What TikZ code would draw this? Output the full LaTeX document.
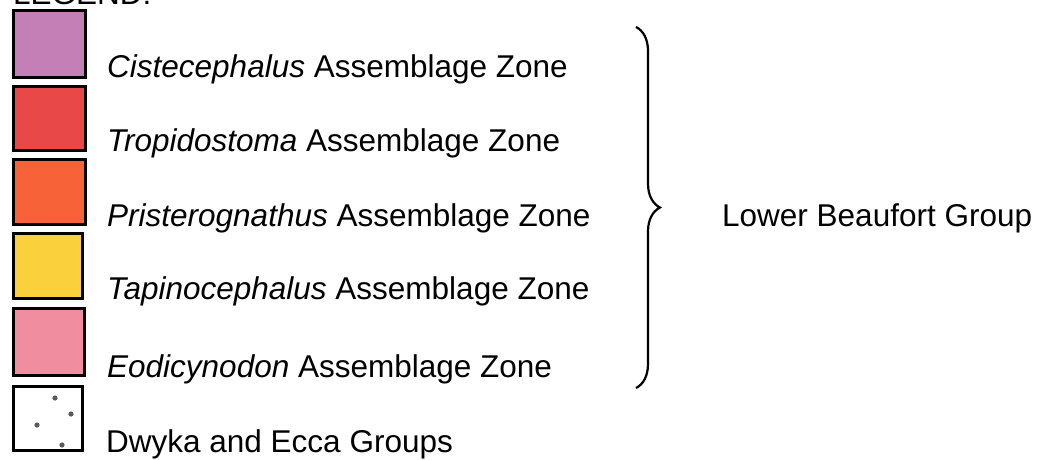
\documentclass[tikz,border=0pt]{standalone}
\usepackage{fontspec}
\setmainfont{Liberation Sans}
\usetikzlibrary{decorations.pathreplacing}
\definecolor{cistec}{RGB}{196,128,182}
\definecolor{tropid}{RGB}{232,72,72}
\definecolor{prist}{RGB}{248,98,56}
\definecolor{tapino}{RGB}{250,208,60}
\definecolor{eodic}{RGB}{240,142,160}
\definecolor{dotgray}{RGB}{90,90,90}
\begin{document}
\begin{tikzpicture}[x=1pt,y=1pt,
  swatch/.style={draw=black,line width=3pt},
  lbl/.style={inner sep=0pt,anchor=base west,font=\fontsize{31.5}{36}\selectfont},
  dwdot/.style={fill=dotgray,draw=none}]
\useasboundingbox (0,0) rectangle (1040,-459);
% title (clipped at the top)
\node[lbl] (title) at (13,-4) {LEGEND:};
% swatches
\path[swatch,fill=cistec] (13.5,-10.5) rectangle (85.5,-77.5) coordinate (s1);
\path[swatch,fill=tropid] (13.5,-86.5) rectangle (85.5,-150.5) coordinate (s2);
\path[swatch,fill=prist] (13.5,-159.5) rectangle (85.5,-224.5) coordinate (s3);
\path[swatch,fill=tapino] (13.5,-233.5) rectangle (82.5,-298.5) coordinate (s4);
\path[swatch,fill=eodic] (13.5,-308.5) rectangle (84.5,-375.5) coordinate (s5);
\path[swatch,fill=white] (13.5,-386.5) rectangle (82.5,-450.5) coordinate (s6);
\fill[dwdot] (55,-398) circle (2.6);
\fill[dwdot] (71,-414) circle (2.6);
\fill[dwdot] (37,-425) circle (2.6);
\fill[dwdot] (62,-445) circle (2.6);
% labels
\node[lbl] (l1) at (107,-77) {\textit{Cistecephalus} Assemblage Zone};
\node[lbl] (l2) at (107,-151) {\textit{Tropidostoma} Assemblage Zone};
\node[lbl] (l3) at (107,-226) {\textit{Pristerognathus} Assemblage Zone};
\node[lbl] (l4) at (107,-299) {\textit{Tapinocephalus} Assemblage Zone};
\node[lbl] (l5) at (107,-377) {\textit{Eodicynodon} Assemblage Zone};
\node[lbl] (l6) at (106,-452) {Dwyka and Ecca Groups};
% brace
\coordinate (btop) at (636,-27);
\coordinate (bbot) at (636,-388);
\draw[line width=2.2pt,decorate,decoration={brace,amplitude=24pt}] (btop) -- (bbot);
\node[lbl] (grp) at (722,-226) {Lower Beaufort Group};
\end{tikzpicture}
\end{document}
